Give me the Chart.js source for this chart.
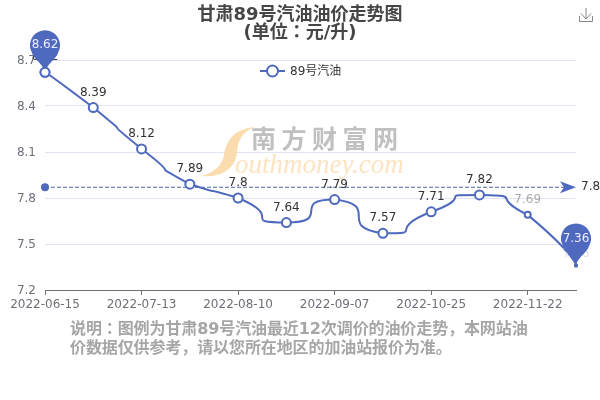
<!DOCTYPE html>
<html>
<head>
<meta charset="utf-8">
<style>
  html, body { margin: 0; padding: 0; background: #fff; }
  #wrap { position: relative; width: 600px; height: 400px; overflow: hidden; }
</style>
<script src="https://cdn.jsdelivr.net/npm/chart.js@4/dist/chart.umd.min.js"></script>
</head>
<body>
<div id="wrap"><canvas id="chart" width="600" height="400"></canvas></div>
<script>
const FONT = '"DejaVu Sans", "Noto Sans CJK JP", sans-serif';

const dates = ["2022-06-15", "2022-06-29", "2022-07-13", "2022-07-27", "2022-08-10", "2022-08-24",
  "2022-09-07", "2022-09-21", "2022-10-25", "2022-11-08", "2022-11-22", "2022-12-06"];
const prices = [8.62, 8.39, 8.12, 7.89, 7.8, 7.64, 7.79, 7.57, 7.71, 7.82, 7.69, 7.36];
const yTicks = [7.2, 7.5, 7.8, 8.1, 8.4, 8.7];
const avgPrice = 7.87;
const titleLines = ["甘肃89号汽油油价走势图", "(单位\uFF1A元/升)"];
const seriesName = "89号汽油";
const noteLines = ["说明\uFF1A图例为甘肃89号汽油最近12次调价的油价走势\uFF0C本网站油", "价数据仅供参考\uFF0C请以您所在地区的加油站报价为准。"];

const BLUE = "#4e69bd";

function clamp(v, a, b) {
  return Math.min(Math.max(v, Math.min(a, b)), Math.max(a, b));
}

function drawPin(ctx, x, y, text) {
  // map pin whose tip sits on the data point
  const r = 15, cy = y - 27;
  const a = Math.PI * 0.15;
  ctx.save();
  ctx.fillStyle = BLUE;
  ctx.beginPath();
  ctx.arc(x, cy, r, Math.PI - a, a);
  ctx.bezierCurveTo(x + 11, cy + 15, x + 2, cy + 18, x, y);
  ctx.bezierCurveTo(x - 2, cy + 18, x - 11, cy + 15, x - r * Math.cos(a), cy + r * Math.sin(a));
  ctx.fill();
  ctx.fillStyle = "#eef";
  ctx.font = "12px " + FONT;
  ctx.textAlign = "center";
  ctx.textBaseline = "middle";
  ctx.fillText(text, x, cy);
  ctx.restore();
}

const extras = {
  id: "extras",
  afterLayout(chart) {
    // title is centred on the whole canvas, not the padded area
    chart.titleBlock.left = 0;
    chart.titleBlock.right = chart.width;
  },
  beforeDatasetsDraw(chart) {
    const { ctx, chartArea: a } = chart;

    // long handles like the original, but no overshoot past the neighbours
    const meta = chart.getDatasetMeta(0);
    meta.dataset.updateControlPoints(a);
    const pts = meta.data;
    pts.forEach((p, i) => {
      const prev = pts[i - 1] || p;
      const next = pts[i + 1] || p;
      p.cp1x = clamp(p.cp1x, prev.x, p.x);
      p.cp1y = clamp(p.cp1y, prev.y, p.y);
      p.cp2x = clamp(p.cp2x, p.x, next.x);
      p.cp2y = clamp(p.cp2y, p.y, next.y);
    });
    const first = pts[0], last = pts[pts.length - 1];
    first.cp2x = first.x; first.cp2y = first.y;
    last.cp1x = last.x; last.cp1y = last.y;

    // watermark
    ctx.save();
    ctx.fillStyle = "#fbdcae";
    ctx.beginPath();
    ctx.moveTo(255, 127);
    ctx.bezierCurveTo(232, 129, 226, 143, 224, 155);
    ctx.bezierCurveTo(222, 166, 214, 172, 202, 176);
    ctx.bezierCurveTo(222, 178, 236, 168, 237, 152);
    ctx.bezierCurveTo(238, 140, 243, 131, 255, 127);
    ctx.fill();
    ctx.fillStyle = "#c0c0c0";
    ctx.font = "bold 25px " + FONT;
    ctx.letterSpacing = "5.5px";
    ctx.textBaseline = "middle";
    ctx.fillText("南方财富网", 251, 141);
    ctx.letterSpacing = "0px";
    ctx.fillStyle = "#fde3c0";
    ctx.font = "italic 27px 'Liberation Serif', serif";
    ctx.textBaseline = "alphabetic";
    ctx.fillText("outhmoney.com", 235, 173);
    ctx.restore();

    // average line
    const y = chart.scales.y.getPixelForValue(avgPrice);
    ctx.save();
    ctx.strokeStyle = "#4e6a9c";
    ctx.lineWidth = 1;
    ctx.setLineDash([4, 2]);
    ctx.beginPath();
    ctx.moveTo(a.left, y);
    ctx.lineTo(a.right - 6, y);
    ctx.stroke();
    ctx.setLineDash([]);
    ctx.fillStyle = BLUE;
    ctx.beginPath();
    ctx.arc(a.left, y, 4, 0, Math.PI * 2);
    ctx.fill();
    ctx.beginPath();
    ctx.moveTo(a.right, y);
    ctx.lineTo(a.right - 16, y - 6);
    ctx.lineTo(a.right - 12, y);
    ctx.lineTo(a.right - 16, y + 6);
    ctx.closePath();
    ctx.fill();
    ctx.fillStyle = "#333";
    ctx.font = "12px " + FONT;
    ctx.textAlign = "left";
    ctx.textBaseline = "middle";
    ctx.fillText(avgPrice.toFixed(2), a.right + 5, y);
    ctx.restore();
  },
  afterDatasetsDraw(chart) {
    const { ctx, chartArea } = chart;
    const pts = chart.getDatasetMeta(0).data;
    ctx.save();
    ctx.font = "12px " + FONT;
    ctx.textAlign = "center";
    ctx.textBaseline = "alphabetic";
    pts.forEach((p, i) => {
      if (i === 10) ctx.fillStyle = "#aaa";
      else if (i === 11) ctx.fillStyle = "#ddd";
      else ctx.fillStyle = "#333";
      ctx.fillText(String(prices[i]), p.x, p.y - (i === 11 ? 8 : 12));
    });
    ctx.restore();
    drawPin(ctx, pts[0].x, pts[0].y, String(prices[0]));
    drawPin(ctx, pts[11].x, pts[11].y, String(prices[11]));
    pts[0].draw(ctx, chartArea);
    pts[11].draw(ctx, chartArea);

    // legend
    ctx.save();
    ctx.strokeStyle = BLUE;
    ctx.lineWidth = 2;
    ctx.beginPath();
    ctx.moveTo(260, 71);
    ctx.lineTo(285, 71);
    ctx.stroke();
    ctx.fillStyle = "#fff";
    ctx.beginPath();
    ctx.arc(272.5, 71, 5.5, 0, Math.PI * 2);
    ctx.fill();
    ctx.stroke();
    ctx.fillStyle = "#333";
    ctx.font = "12px " + FONT;
    ctx.textBaseline = "middle";
    ctx.fillText(seriesName, 290, 72);
    ctx.restore();

    // note under the chart
    ctx.save();
    ctx.fillStyle = "#a6a6a6";
    ctx.font = "bold 16px " + FONT;
    ctx.letterSpacing = "-0.1px";
    ctx.textBaseline = "middle";
    ctx.fillText(noteLines[0], 70, 330);
    ctx.fillText(noteLines[1], 70, 349);
    ctx.letterSpacing = "0px";
    // download icon
    ctx.strokeStyle = "#888";
    ctx.lineWidth = 1;
    ctx.beginPath();
    ctx.moveTo(579.5, 16); ctx.lineTo(579.5, 21.5); ctx.lineTo(592.5, 21.5); ctx.lineTo(592.5, 16);
    ctx.moveTo(586, 8); ctx.lineTo(586, 19);
    ctx.moveTo(581, 13.5); ctx.lineTo(586, 19); ctx.lineTo(591, 13.5);
    ctx.stroke();
    ctx.restore();
  },
};

new Chart(document.getElementById("chart"), {
  type: "line",
  data: {
    labels: dates,
    datasets: [{
      label: seriesName,
      data: prices,
      borderColor: BLUE,
      borderWidth: 2,
      backgroundColor: "#fff",
      pointBackgroundColor: (c) => (c.dataIndex === 11 ? BLUE : "#fff"),
      pointBorderColor: BLUE,
      pointBorderWidth: 2,
      pointRadius: (c) => (c.dataIndex === 11 ? 1 : c.dataIndex === 10 ? 3 : 4.5),
      tension: 1,
      clip: false,
    }],
  },
  options: {
    responsive: false,
    animation: false,
    layout: { padding: { left: 0, right: 24, top: 0, bottom: 89 } },
    plugins: {
      legend: { display: false },
      tooltip: { enabled: false },
      title: {
        display: true,
        text: titleLines,
        color: "#464646",
        font: { family: FONT, size: 18, weight: "bold", lineHeight: 1 },
        padding: { top: 6, bottom: 18 },
      },
    },
    scales: {
      x: {
        offset: false,
        afterFit(axis) { axis.height = 21; },
        grid: {
          drawOnChartArea: false,
          tickLength: 5,
          tickColor: (c) => (c.index % 2 === 0 ? "#6e7079" : "transparent"),
        },
        border: { color: "#6e7079" },
        ticks: {
          autoSkip: false,
          maxRotation: 0,
          color: "#6e7079",
          padding: 3,
          font: { family: FONT, size: 12 },
          callback(v, i) { return i % 2 === 0 ? dates[i] : ""; },
        },
      },
      y: {
        min: 7.2,
        max: 8.7,
        afterFit(axis) { axis.width = 45; },
        afterBuildTicks(axis) { axis.ticks = yTicks.map((value) => ({ value })); },
        grid: { color: "#e0e6f1", drawTicks: false },
        border: { display: false },
        ticks: {
          color: "#6e7079",
          padding: 9,
          labelOffset: 1,
          font: { family: FONT, size: 12 },
          callback: (v) => v.toFixed(1),
        },
      },
    },
  },
  plugins: [extras],
});
</script>
</body>
</html>
